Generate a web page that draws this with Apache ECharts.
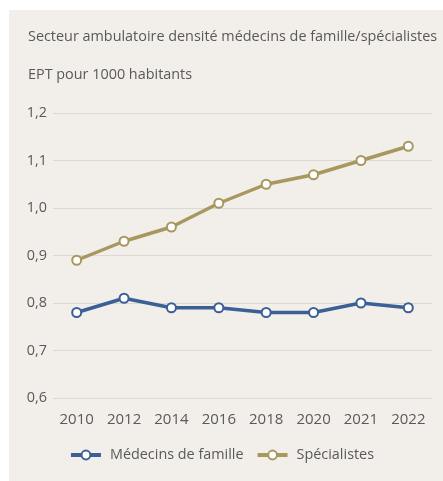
<!DOCTYPE html>
<html>
<head>
<meta charset="utf-8">
<script src="https://cdn.jsdelivr.net/npm/echarts@6/dist/echarts.min.js"></script>
<style>
  html, body { margin: 0; padding: 0; background: #ffffff; }
  #panel { position: absolute; left: 9px; top: 10px; width: 434px; height: 471px; background: #f2efeb; }
  #chart { position: absolute; left: 0; top: 0; width: 443px; height: 481px; }
</style>
</head>
<body>
<div id="panel"></div>
<div id="chart"></div>
<script>
// Ambulatory sector: FTE physicians per 1000 inhabitants
const years = ['2010', '2012', '2014', '2016', '2018', '2020', '2021', '2022'];
const medecinsFamille = [0.78, 0.81, 0.79, 0.79, 0.78, 0.78, 0.80, 0.79];
const specialistes = [0.89, 0.93, 0.96, 1.01, 1.05, 1.07, 1.10, 1.13];

const textColor = '#595959';
const fontFamily = '"Open Sans", "Noto Sans", sans-serif';

const chart = echarts.init(document.getElementById('chart'), null, { renderer: 'canvas' });

function lineSeries(name, data, color) {
  return {
    name: name,
    type: 'line',
    data: data,
    symbol: 'circle',
    symbolSize: 9,
    showSymbol: true,
    lineStyle: { color: color, width: 3.5 },
    itemStyle: { color: '#ffffff', borderColor: color, borderWidth: 2 },
    emphasis: { disabled: true },
    z: 3
  };
}

chart.setOption({
  backgroundColor: 'transparent',
  animation: false,
  title: [
    {
      text: 'Secteur ambulatoire densité médecins de famille/spécialistes',
      left: 23, top: 25,
      textStyle: { color: textColor, fontSize: 14.4, fontWeight: 'normal', fontFamily: fontFamily }
    },
    {
      text: 'EPT pour 1000 habitants',
      left: 23, top: 63,
      textStyle: { color: textColor, fontSize: 14.4, fontWeight: 'normal', fontFamily: fontFamily }
    }
  ],
  grid: { left: 53, right: 11, top: 113, bottom: 83, containLabel: false, outerBoundsMode: 'none' },
  xAxis: {
    type: 'category',
    data: years,
    boundaryGap: true,
    axisLine: { show: false },
    axisTick: { show: false },
    axisLabel: { color: textColor, fontSize: 15, fontFamily: fontFamily, margin: 14 }
  },
  yAxis: {
    type: 'value',
    min: 0.6, max: 1.2, interval: 0.1,
    axisLine: { show: false },
    axisTick: { show: false },
    splitLine: { lineStyle: { color: '#dcd9d4', width: 1 } },
    axisLabel: {
      color: textColor, fontSize: 14.4, fontFamily: fontFamily, margin: 6,
      formatter: v => v.toFixed(1).replace('.', ',')
    }
  },
  legend: {
    top: 443,
    left: 'center',
    itemWidth: 30,
    itemHeight: 11,
    itemGap: 12,
    lineStyle: { width: 4 },
    textStyle: { color: textColor, fontSize: 14.4, fontFamily: fontFamily, padding: [0, 0, 0, 4] },
    data: ['Médecins de famille', 'Spécialistes']
  },
  series: [
    lineSeries('Médecins de famille', medecinsFamille, '#3b6096'),
    lineSeries('Spécialistes', specialistes, '#a8975e')
  ]
});
</script>
</body>
</html>
